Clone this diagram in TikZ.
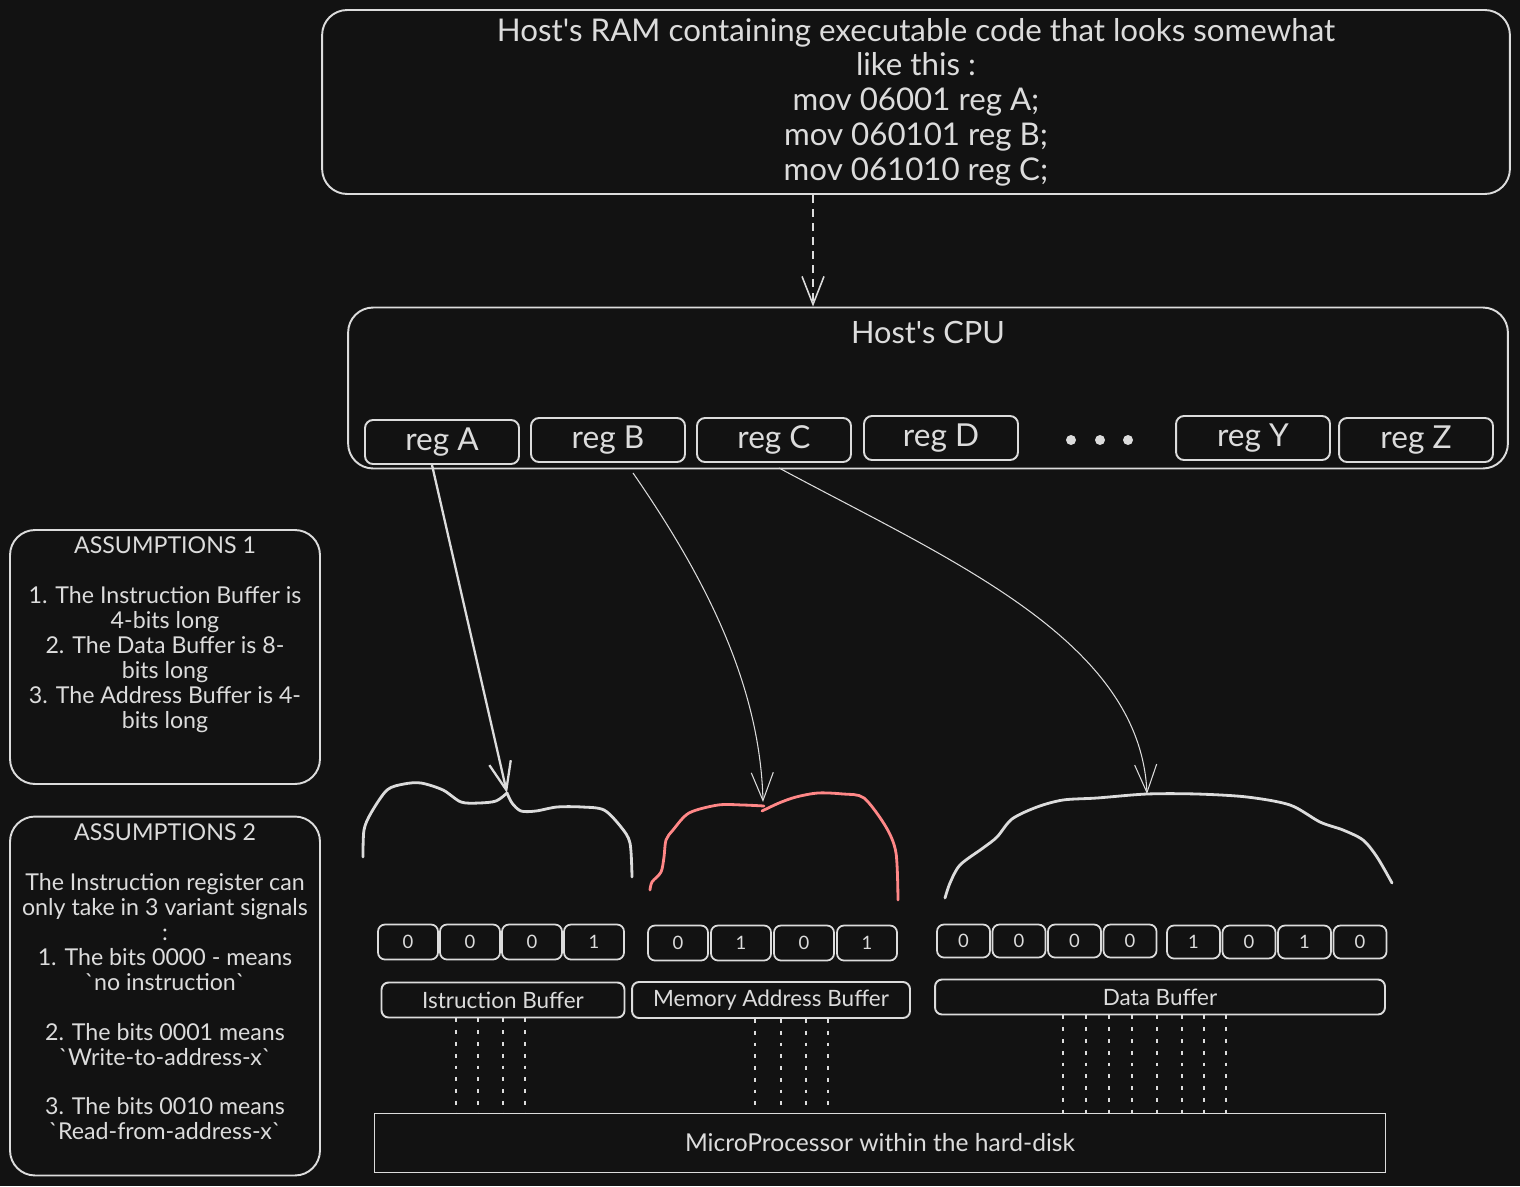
\documentclass[tikz,border=0pt]{standalone}
\usepackage{fontspec}
\setmainfont{Lato}
\usetikzlibrary{arrows.meta, positioning}

\definecolor{bgcol}{HTML}{121212}
\definecolor{inkcol}{HTML}{DCDCDC}
\definecolor{redcol}{HTML}{FF8787}

\begin{document}
\begin{tikzpicture}[
    x=0.02cm, y=-0.02cm,
    % Styles
    bigbox/.style={
        rectangle,
        rounded corners=0.5cm,
        draw=inkcol,
        line width=1.1pt,
        text=inkcol,
        align=center,
        font=\fontsize{17.8}{19.8}\selectfont
    },
    regbox/.style={
        rectangle,
        rounded corners=0.16cm,
        draw=inkcol,
        line width=1.1pt,
        text=inkcol,
        minimum width=3.08cm,
        minimum height=0.88cm,
        font=\fontsize{18}{20}\selectfont
    },
    bitbox/.style={
        rectangle,
        rounded corners=0.14cm,
        draw=inkcol,
        line width=1pt,
        text=inkcol,
        minimum width=1.2cm,
        minimum height=0.7cm,
        inner sep=0pt,
        font=\fontsize{10.5}{12}\selectfont
    },
    labelbox/.style={
        rectangle,
        rounded corners=0.14cm,
        draw=inkcol,
        line width=1.1pt,
        text=inkcol,
        minimum height=0.7cm,
        inner sep=0pt,
        font=\fontsize{12.8}{14}\selectfont
    },
    notebox/.style={
        rectangle,
        rounded corners=0.5cm,
        draw=inkcol,
        line width=1.1pt,
        minimum width=6.2cm
    },
    notetext/.style={
        text=inkcol,
        align=center,
        anchor=north,
        inner sep=1pt,
        font=\fontsize{13.2}{14.2}\selectfont
    },
    flow/.style={
        -{Straight Barb[length=5.6mm, width=4.4mm]},
        draw=inkcol
    },
    wire/.style={
        draw=inkcol,
        line width=0.9pt,
        dash pattern=on 2.2pt off 4.5pt
    },
    lump/.style={
        line width=1.6pt,
        line cap=round,
        line join=round
    }
]

% Background and page size
\fill[bgcol] (0,0) rectangle (1520,1186);

% RAM
\node[bigbox, minimum width=23.76cm, minimum height=3.68cm] (ram) at (916,102) {
    Host\textquotesingle s RAM containing executable code that looks somewhat\\
    like this :\\
    mov 06001 reg A;\\
    mov 060101 reg B;\\
    mov 061010 reg C;
};

% CPU with its registers
\node[bigbox, minimum width=23.2cm, minimum height=3.22cm] (cpu) at (928,388) {};
\node[text=inkcol, font=\fontsize{17.5}{19}\selectfont] (cputitle) at (928,332) {Host\textquotesingle s CPU};

\foreach \r/\x/\y in {A/442/442, B/608/440, C/774/440, D/941/438, Y/1253/438, Z/1416/440}
    \node[regbox] (reg\r) at (\x,\y) {reg \r};

\foreach \x in {1071,1100,1128}
    \fill[inkcol] (\x,440) circle[radius=0.1cm];

\draw[flow, line width=0.9pt, dash pattern=on 4.5pt off 3.5pt] (813,0 |- ram.south) -- (813,0 |- cpu.north);

% Hand-drawn lumps over the buffers
\draw[lump, inkcol] plot[smooth] coordinates {
    (363,857) (364,830) (371,813) (387,790) (404,784) (421,783) (443,790)
    (461,802) (479,803) (496,801) (507,793)};
\draw[lump, inkcol] plot[smooth] coordinates {
    (507,793) (512,803) (521,811) (536,811) (557,807) (582,807) (604,810)
    (621,827) (630,843) (632,877)};
\coordinate (ilump) at (507,793);

\draw[lump, redcol] plot[smooth] coordinates {
    (650,890) (652,882) (661,872) (664,857) (666,840) (673,830) (689,813)
    (718,805) (743,805) (764,806)};
\draw[lump, redcol] plot[smooth] coordinates {
    (762,811) (779,803) (796,797) (818,793) (843,794) (864,798) (886,827)
    (896,853) (898,900)};
\coordinate (mlump) at (763,802);

\draw[lump, inkcol] plot[smooth] coordinates {
    (945,898) (950,883) (960,865) (983,848) (997,837) (1012,819) (1037,807)
    (1063,800) (1097,798) (1147,794) (1197,794) (1247,797) (1290,805)
    (1320,822) (1343,830) (1363,840) (1377,857) (1392,883)};
\coordinate (dlump) at (1147,794);

% Registers to buffers
\draw[flow, line width=1.3pt] ([xshift=-0.2cm]regA.south) -- (ilump);
\draw[flow, line width=0.6pt] ([xshift=0.5cm, yshift=-0.2cm]regB.south)
    .. controls (700,570) and (760,680) .. (mlump);
\draw[flow, line width=0.6pt] ([xshift=0.1cm, yshift=-0.1cm]regC.south)
    .. controls (950,560) and (1140,640) .. (dlump);

% Bit cells
\foreach \b [count=\i] in {0,0,0,1}
    \node[bitbox] (ib\i) at ({346+62*\i},942) {\b};
\foreach \b [count=\i] in {0,1,0,1}
    \node[bitbox] (mb\i) at ({615+63*\i},943) {\b};
\foreach \b [count=\i] in {0,0,0,0}
    \node[bitbox, minimum width=1.06cm, minimum height=0.66cm] (db\i) at ({908+55.5*\i},941) {\b};
\foreach \b [count=\i] in {1,0,1,0}
    \node[bitbox, minimum width=1.06cm, minimum height=0.66cm] (db\the\numexpr\i+4\relax) at ({1138+55.5*\i},942) {\b};

% Buffer labels
\node[labelbox, minimum width=4.86cm] (ibuf) at (503,1000) {Istruction Buffer};
\node[labelbox, minimum width=5.56cm, minimum height=0.72cm] (mbuf) at (771,1000) {Memory Address Buffer};
\node[labelbox, minimum width=9cm] (dbuf) at (1160,997) {Data Buffer};

% Disk micro processor
\node[rectangle, draw=inkcol, line width=0.9pt, text=inkcol, minimum width=20.22cm,
      minimum height=1.18cm, font=\fontsize{14}{16}\selectfont] (mp) at (880,1143)
    {MicroProcessor within the hard-disk};

% Bus lines
\foreach \x in {456,478,503,525}
    \draw[wire] (\x,0 |- ibuf.south) -- (\x,0 |- mp.north);
\foreach \x in {755,781,806,828}
    \draw[wire] (\x,0 |- mbuf.south) -- (\x,0 |- mp.north);
\foreach \x in {1063,1086,1109,1132,1157,1182,1204,1226}
    \draw[wire] (\x,0 |- dbuf.south) -- (\x,0 |- mp.north);

% Assumption notes
\node[notebox, minimum height=5.08cm] (asm1) at (165,657) {};
\node[notetext] (asm1text) at ([yshift=-0.12cm]asm1.north) {
    ASSUMPTIONS 1\\[14.2pt]
    1. The Instruction Buffer is\\
    4-bits long\\
    2. The Data Buffer is 8-\\
    bits long\\
    3. The Address Buffer is 4-\\
    bits long
};

\node[notebox, minimum height=7.18cm] (asm2) at (165,996) {};
\node[notetext] (asm2text) at ([yshift=-0.12cm]asm2.north) {
    ASSUMPTIONS 2\\[14.2pt]
    The Instruction register can\\
    only take in 3 variant signals\\
    :\\
    1. The bits 0000 - means\\
    \textasciigrave no instruction\textasciigrave\\[14.2pt]
    2. The bits 0001 means\\
    \textasciigrave Write-to-address-x\textasciigrave\\[14.2pt]
    3. The bits 0010 means\\
    \textasciigrave Read-from-address-x\textasciigrave
};

\end{tikzpicture}
\end{document}
